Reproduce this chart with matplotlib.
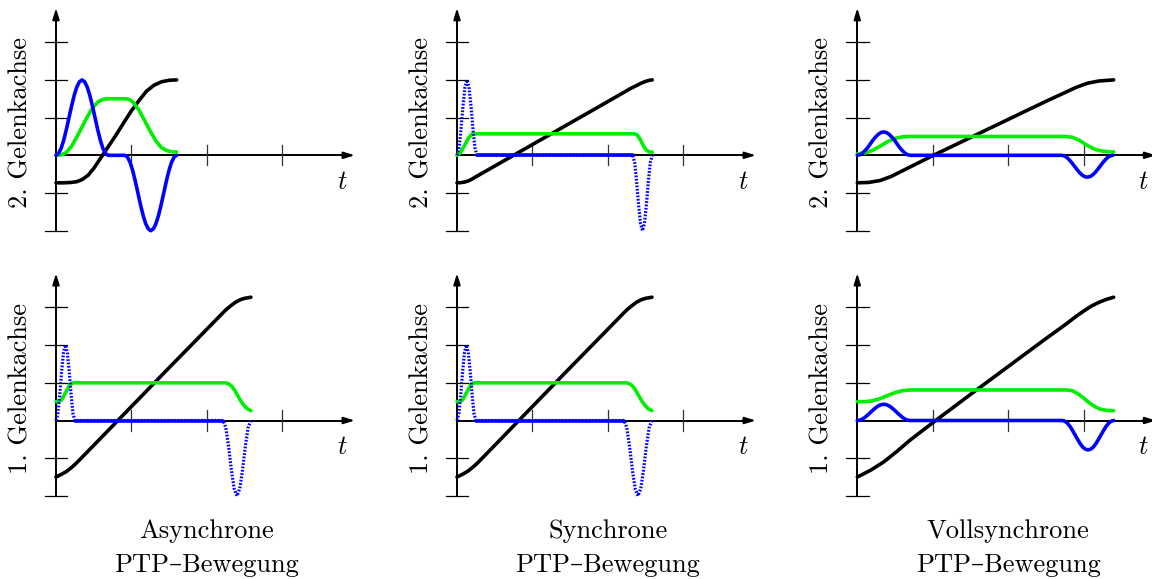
import matplotlib
matplotlib.use("Agg")
import matplotlib.pyplot as plt

plt.rcParams["mathtext.fontset"] = "cm"

# --- data (units: one y tick = 1, x ticks at 2, 4, 6) ---

# Asynchrone, 2. Gelenkachse
asy2_pos_t = [0, 0.2, 0.4, 0.55, 0.7, 0.85, 1.0, 1.2, 1.4, 1.6, 1.8, 2.0, 2.2, 2.4, 2.6, 2.8, 3.0, 3.2]
asy2_pos = [-0.73, -0.73, -0.72, -0.70, -0.64, -0.53, -0.35, -0.05, 0.25, 0.55, 0.87, 1.18, 1.45, 1.70, 1.86, 1.95, 1.99, 2.0]
asy2_vel_t = [0, 0.14, 0.28, 0.42, 0.56, 0.7, 0.84, 0.98, 1.12, 1.26, 1.4, 1.85, 1.95, 2.05, 2.2, 2.35, 2.5, 2.65, 2.8, 2.95, 3.1, 3.2]
asy2_vel = [0, 0.01, 0.08, 0.25, 0.5, 0.77, 1.04, 1.27, 1.42, 1.49, 1.5, 1.5, 1.48, 1.40, 1.2, 0.92, 0.64, 0.38, 0.2, 0.12, 0.09, 0.09]
asy2_acc_t = [0, 0.069, 0.138, 0.207, 0.276, 0.345, 0.414, 0.483, 0.552, 0.621, 0.69,
              0.759, 0.828, 0.897, 0.966, 1.035, 1.104, 1.173, 1.242, 1.311, 1.38,
              1.83, 1.899, 1.967, 2.036, 2.104, 2.173, 2.241, 2.31, 2.378, 2.447, 2.515,
              2.584, 2.652, 2.721, 2.789, 2.858, 2.926, 2.995, 3.063, 3.132, 3.2]
asy2_acc = [0, 0.05, 0.19, 0.41, 0.69, 1.0, 1.31, 1.59, 1.81, 1.95, 2.0,
            1.95, 1.81, 1.59, 1.31, 1.0, 0.69, 0.41, 0.19, 0.05, 0,
            0, -0.05, -0.19, -0.41, -0.69, -1.0, -1.31, -1.59, -1.81, -1.95, -2.0,
            -1.95, -1.81, -1.59, -1.31, -1.0, -0.69, -0.41, -0.19, -0.05, 0]

# Synchrone, 2. Gelenkachse
syn2_pos_t = [0, 0.1, 0.2, 0.3, 0.4, 0.5, 1.0, 2.0, 3.0, 4.0, 4.6, 4.7, 4.8, 4.9, 5.0, 5.1, 5.18]
syn2_pos = [-0.73, -0.725, -0.71, -0.68, -0.63, -0.57, -0.285, 0.285, 0.855, 1.425, 1.77, 1.82, 1.87, 1.92, 1.96, 1.99, 2.0]
syn2_vel_t = [0, 0.1, 0.2, 0.3, 0.4, 0.5, 4.7, 4.78, 4.86, 4.94, 5.02, 5.1, 5.18]
syn2_vel = [0, 0.08, 0.26, 0.45, 0.56, 0.57, 0.57, 0.54, 0.42, 0.26, 0.14, 0.09, 0.08]
syn2_acc_t = [0, 0.053, 0.106, 0.159, 0.212, 0.265, 0.318, 0.371, 0.424, 0.477, 0.53,
              4.66, 4.712, 4.764, 4.816, 4.868, 4.92, 4.972, 5.024, 5.076, 5.128, 5.18]
syn2_acc = [0, 0.19, 0.69, 1.31, 1.81, 2.0, 1.81, 1.31, 0.69, 0.19, 0,
            0, -0.19, -0.69, -1.31, -1.81, -2.0, -1.81, -1.31, -0.69, -0.19, 0]

# Vollsynchrone, 2. Gelenkachse
vol2_pos_t = [0, 0.3, 0.6, 0.9, 1.2, 1.5, 2.0, 3.0, 4.0, 5.0, 5.5, 5.8, 6.1, 6.4, 6.8]
vol2_pos = [-0.73, -0.72, -0.67, -0.56, -0.41, -0.26, -0.01, 0.47, 0.95, 1.43, 1.66, 1.80, 1.91, 1.97, 2.0]
vol2_vel_t = [0, 0.2, 0.4, 0.6, 0.8, 1.0, 1.2, 1.4, 5.5, 5.7, 5.9, 6.1, 6.3, 6.5, 6.7, 6.8]
vol2_vel = [0.04, 0.06, 0.13, 0.24, 0.36, 0.45, 0.49, 0.5, 0.5, 0.48, 0.39, 0.26, 0.16, 0.11, 0.09, 0.09]
vol2_acc_t = [0, 0.07, 0.14, 0.21, 0.28, 0.35, 0.42, 0.49, 0.56, 0.63, 0.7,
              0.77, 0.84, 0.91, 0.98, 1.05, 1.12, 1.19, 1.26, 1.33, 1.4,
              5.42, 5.488, 5.556, 5.624, 5.692, 5.76, 5.828, 5.896, 5.964, 6.032, 6.1,
              6.168, 6.236, 6.304, 6.372, 6.44, 6.508, 6.576, 6.644, 6.712, 6.78]
vol2_acc = [0, 0.015, 0.06, 0.13, 0.21, 0.31, 0.41, 0.49, 0.56, 0.605, 0.62,
            0.605, 0.56, 0.49, 0.41, 0.31, 0.21, 0.13, 0.06, 0.015, 0,
            0, -0.014, -0.055, -0.12, -0.2, -0.29, -0.38, -0.46, -0.525, -0.566, -0.58,
            -0.566, -0.525, -0.46, -0.38, -0.29, -0.2, -0.12, -0.055, -0.014, 0]

# Asynchrone / Synchrone, 1. Gelenkachse (identical)
asy1_pos_t = [0, 0.14, 0.28, 0.42, 0.55, 1.0, 2.0, 3.0, 4.0, 4.5, 4.62, 4.75, 4.88, 5.0, 5.17]
asy1_pos = [-1.5, -1.43, -1.35, -1.24, -1.12, -0.66, 0.37, 1.40, 2.42, 2.93, 3.03, 3.13, 3.2, 3.24, 3.27]
asy1_vel_t = [0, 0.08, 0.15, 0.25, 0.35, 0.42, 0.5, 4.49, 4.58, 4.66, 4.74, 4.82, 4.9, 4.98, 5.06, 5.17]
asy1_vel = [0.5, 0.5, 0.55, 0.73, 0.92, 0.99, 1.0, 1.0, 0.97, 0.91, 0.8, 0.66, 0.52, 0.41, 0.32, 0.26]
asy1_acc_t = [0, 0.05, 0.1, 0.15, 0.2, 0.25, 0.3, 0.35, 0.4, 0.45, 0.5,
              4.43, 4.504, 4.578, 4.652, 4.726, 4.8, 4.874, 4.948, 5.022, 5.096, 5.17]
asy1_acc = [0, 0.19, 0.69, 1.31, 1.81, 2.0, 1.81, 1.31, 0.69, 0.19, 0,
            0, -0.19, -0.69, -1.31, -1.81, -2.0, -1.81, -1.31, -0.69, -0.19, 0]

# Vollsynchrone, 1. Gelenkachse
vol1_pos_t = [0, 0.35, 0.7, 1.05, 1.4, 2.0, 3.0, 4.0, 5.0, 5.5, 5.8, 6.0, 6.2, 6.4, 6.6, 6.8]
vol1_pos = [-1.5, -1.32, -1.1, -0.82, -0.52, -0.06, 0.69, 1.43, 2.17, 2.53, 2.76, 2.9, 3.03, 3.13, 3.21, 3.27]
vol1_vel_t = [0, 0.2, 0.4, 0.6, 0.8, 1.0, 1.2, 1.4, 5.55, 5.7, 5.85, 6.0, 6.15, 6.3, 6.45, 6.6, 6.8]
vol1_vel = [0.5, 0.5, 0.52, 0.58, 0.66, 0.74, 0.79, 0.81, 0.81, 0.79, 0.71, 0.6, 0.47, 0.37, 0.3, 0.27, 0.26]
vol1_acc_t = [0, 0.07, 0.14, 0.21, 0.28, 0.35, 0.42, 0.49, 0.56, 0.63, 0.7,
              0.77, 0.84, 0.91, 0.98, 1.05, 1.12, 1.19, 1.26, 1.33, 1.4,
              5.44, 5.508, 5.576, 5.644, 5.712, 5.78, 5.848, 5.916, 5.984, 6.052, 6.12,
              6.188, 6.256, 6.324, 6.392, 6.46, 6.528, 6.596, 6.664, 6.732, 6.8]
vol1_acc = [0, 0.01, 0.04, 0.09, 0.15, 0.215, 0.28, 0.34, 0.39, 0.42, 0.43,
            0.42, 0.39, 0.34, 0.28, 0.215, 0.15, 0.09, 0.04, 0.01, 0,
            0, -0.02, -0.075, -0.16, -0.27, -0.39, -0.51, -0.62, -0.71, -0.76, -0.78,
            -0.76, -0.71, -0.62, -0.51, -0.39, -0.27, -0.16, -0.075, -0.02, 0]

titles = ["Asynchrone", "Synchrone", "Vollsynchrone"]
row_labels = ["2. Gelenkachse", "1. Gelenkachse"]
y_ticks = [-2, -1, 1, 2, 3]
x_ticks = [2, 4, 6]

# panel contents: (pos, vel, acc, dotted spikes)
panels_top = [
    (asy2_pos_t, asy2_pos, asy2_vel_t, asy2_vel, asy2_acc_t, asy2_acc, False),
    (syn2_pos_t, syn2_pos, syn2_vel_t, syn2_vel, syn2_acc_t, syn2_acc, True),
    (vol2_pos_t, vol2_pos, vol2_vel_t, vol2_vel, vol2_acc_t, vol2_acc, False),
]
panels_bot = [
    (asy1_pos_t, asy1_pos, asy1_vel_t, asy1_vel, asy1_acc_t, asy1_acc, True),
    (asy1_pos_t, asy1_pos, asy1_vel_t, asy1_vel, asy1_acc_t, asy1_acc, True),
    (vol1_pos_t, vol1_pos, vol1_vel_t, vol1_vel, vol1_acc_t, vol1_acc, False),
]

# --- layout ---
W, H = 1152, 579
U = 37.7  # px per unit
origins_x = [56, 457, 857.3]
origins_y = [155.3, 420.5]
XMIN, XMAX, YMIN, YMAX = -1.5, 8.4, -2.6, 4.2

BLUE = "#0000ff"
GREEN = "#00ee00"
LW = 2.6
TXT = ["cmr10", "DejaVu Serif"]

fig = plt.figure(figsize=(W / 100, H / 100), dpi=100)


def make_axes(ox, oy):
    rect = [(ox + XMIN * U) / W, (H - oy + YMIN * U) / H,
            (XMAX - XMIN) * U / W, (YMAX - YMIN) * U / H]
    ax = fig.add_axes(rect)
    ax.set_xlim(XMIN, XMAX)
    ax.set_ylim(YMIN, YMAX)
    ax.axis("off")
    return ax


def draw_panel(ax, data, label):
    pos_t, pos, vel_t, vel, acc_t, acc, dotted = data
    # axes
    ax.plot([0, 0], [-2, 3.7], color="black", lw=1.4, clip_on=False)
    ax.plot([0, 7.7], [0, 0], color="black", lw=1.4, clip_on=False)
    arrow = dict(arrowstyle="-|>,head_length=0.65,head_width=0.2", color="black", lw=1.4)
    ax.annotate("", xy=(0, 3.98), xytext=(0, 3.5), arrowprops=arrow, annotation_clip=False)
    ax.annotate("", xy=(8.0, 0), xytext=(7.5, 0), arrowprops=arrow, annotation_clip=False)
    for yt in y_ticks:
        ax.plot([-0.3, 0.3], [yt, yt], color="black", lw=0.9, clip_on=False)
    for xt in x_ticks:
        ax.plot([xt, xt], [-0.27, 0.27], color="#333333", lw=0.9, clip_on=False)
    ax.text(7.6, -0.7, r"$t$", fontsize=19, ha="center", va="center")
    ax.text(-0.95, 0.86, label, rotation=90, fontsize=19, family=TXT,
            ha="center", va="center")

    # curves
    ax.plot(pos_t, pos, color="black", lw=LW, solid_capstyle="round", clip_on=False)
    ax.plot(vel_t, vel, color=GREEN, lw=LW, solid_capstyle="round", clip_on=False)
    if dotted:
        ax.plot(acc_t, acc, color=BLUE, lw=2.3, dashes=(0.55, 0.5), dash_capstyle="butt",
                clip_on=False)
        for i in range(len(acc) - 1):
            if acc[i] == 0 and acc[i + 1] == 0:
                ax.plot([acc_t[i], acc_t[i + 1]], [0, 0], color=BLUE, lw=LW,
                        solid_capstyle="round", clip_on=False)
    else:
        ax.plot(acc_t, acc, color=BLUE, lw=LW, solid_capstyle="round", clip_on=False)


for j in range(3):
    ax = make_axes(origins_x[j], origins_y[0])
    draw_panel(ax, panels_top[j], row_labels[0])
    ax = make_axes(origins_x[j], origins_y[1])
    draw_panel(ax, panels_bot[j], row_labels[1])
    ax.text(4, -3.12, titles[j], fontsize=19, family=TXT, ha="center", va="baseline")
    ax.text(4, -4.02, "PTP\u2013Bewegung", fontsize=19, family=TXT, ha="center", va="baseline")

fig.savefig("out.png", dpi=100)
